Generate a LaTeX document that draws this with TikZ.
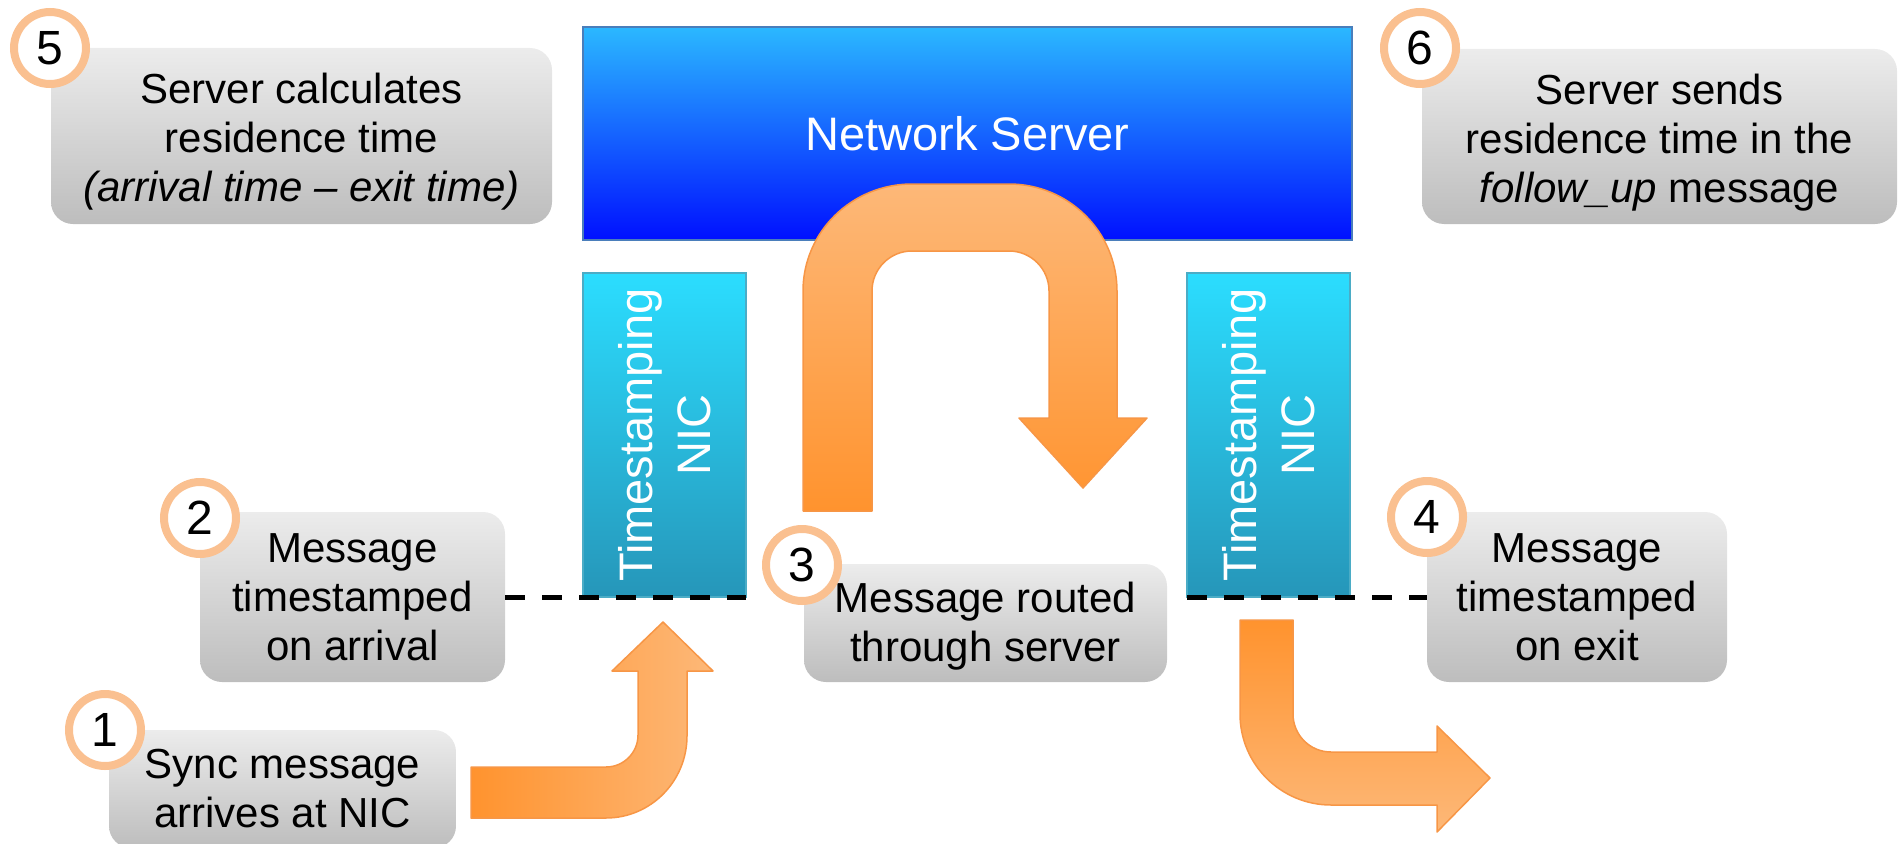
\documentclass[tikz,border=0pt]{standalone}
\usepackage{fontspec}
\setmainfont{Liberation Sans}
\definecolor{peach}{RGB}{250,192,144}
\definecolor{grayTop}{RGB}{236,236,236}
\definecolor{grayBot}{RGB}{189,189,189}
\definecolor{srvTop}{RGB}{43,184,255}
\definecolor{srvBot}{RGB}{0,16,255}
\definecolor{srvEdge}{RGB}{74,126,187}
\definecolor{nicTop}{RGB}{43,221,255}
\definecolor{nicBot}{RGB}{38,150,185}
\definecolor{nicEdge}{RGB}{75,172,198}
\definecolor{orDark}{RGB}{255,147,46}
\definecolor{orLight}{RGB}{253,184,120}
\definecolor{orEdge}{RGB}{247,150,70}
\begin{document}
\begin{tikzpicture}[x=1pt,y=-1pt,
  gbox/.style={rectangle, rounded corners=22pt, inner sep=0pt, outer sep=0pt, top color=grayTop, bottom color=grayBot},
  btext/.style={align=center, font=\fontsize{42}{49}\selectfont, text=black, inner sep=0pt},
  numcirc/.style={circle, draw=peach, line width=8pt, fill=white, minimum size=72pt, inner sep=0pt, font=\fontsize{48}{48}\selectfont},
  nicbox/.style={rectangle, inner sep=0pt, outer sep=0pt, minimum width=163pt, minimum height=324pt, top color=nicTop, bottom color=nicBot, draw=nicEdge, line width=1.5pt},
  nictext/.style={rotate=90, align=center, text=white, font=\fontsize{47}{58}\selectfont, inner sep=0pt},
  bigarrow/.style={draw=orEdge, line width=1.5pt, line join=round},
  stampline/.style={draw=black, line width=5pt, dash pattern=on 20pt off 17pt}
]
\useasboundingbox (0,0) rectangle (1902,843);

% server
\node[rectangle, inner sep=0pt, outer sep=0pt, minimum width=769pt, minimum height=213pt,
      top color=srvTop, bottom color=srvBot, draw=srvEdge, line width=1.5pt] (srv) at (967.5,133.5) {};
\node[text=white, font=\fontsize{47}{47}\selectfont, inner sep=0pt] (srvt) at (srv.center) {Network Server};

% NICs
\node[nicbox] (nicL) at (664.5,435) {};
\node[nicbox] (nicR) at (1268.5,435) {};
\node[nictext] (nicLt) at (nicL.center) {Timestamping\\NIC};
\node[nictext] (nicRt) at (nicR.center) {Timestamping\\NIC};

% grey boxes
\node[gbox, minimum width=501pt, minimum height=176pt] (b5) at (301.5,136) {};
\node[gbox, minimum width=475pt, minimum height=175pt] (b6) at (1659.5,136.5) {};
\node[gbox, minimum width=305pt, minimum height=170pt] (b2) at (352.5,597) {};
\node[gbox, minimum width=363pt, minimum height=118pt] (b3) at (985.5,623) {};
\node[gbox, minimum width=300pt, minimum height=170pt] (b4) at (1577,597) {};
\node[gbox, minimum width=347pt, minimum height=118pt] (b1) at (282.5,789) {};

\node[btext] (t5) at ([yshift=-6pt]b5.center) {Server calculates\\residence time\\\textit{(arrival time \textendash{} exit time)}};
\node[btext] (t6) at ([yshift=-6pt]b6.center) {Server sends\\residence time in the\\\textit{follow\_up} message};
\node[btext] (t2) at (b2.center) {Message\\timestamped\\on arrival};
\node[btext] (t3) at ([yshift=-3pt]b3.center) {Message routed\\through server};
\node[btext] (t4) at (b4.center) {Message\\timestamped\\on exit};
\node[btext] (t1) at (b1.center) {Sync message\\arrives at NIC};

% arrow 1 (bent up)
\draw[bigarrow, left color=orDark, right color=orLight]
  (471,767) -- (606,767) .. controls (623.7,767) and (638,752.7) .. (638,735)
  -- (638,671) -- (612,671) -- (663,622) -- (713,671) -- (687,671) -- (687,736)
  .. controls (687,781.3) and (650.7,818) .. (606,818) -- (471,818) -- cycle;

% U-turn arrow
\draw[bigarrow, top color=orLight, bottom color=orDark]
  (803,511) -- (803,291) .. controls (803,231.9) and (851.8,184) .. (912,184)
  -- (1009,184) .. controls (1068.6,184) and (1117,231.9) .. (1117,291)
  -- (1117,418) -- (1147,418) -- (1083,488) -- (1019,418) -- (1049,418)
  -- (1049,291) .. controls (1049,268.9) and (1031.1,251) .. (1009,251)
  -- (912,251) .. controls (889.9,251) and (872,268.9) .. (872,291)
  -- (872,511) -- cycle;

% arrow 4 (bent right)
\draw[bigarrow, top color=orDark, bottom color=orLight]
  (1240,620) -- (1293,620) -- (1293,714) .. controls (1293,735) and (1310,752) .. (1331,752)
  -- (1437,752) -- (1437,726) -- (1490,778) -- (1437,832) -- (1437,805) -- (1331,805)
  .. controls (1280.8,805) and (1240,764.2) .. (1240,714) -- cycle;

% timestamp lines
\draw[stampline] (b2.east) -- (nicL.south east);
\draw[stampline] (nicR.south west) -- (b4.west);

% numbered circles
\node[numcirc] (c5) at (50,48) {5};
\node[numcirc] (c6) at (1420,48) {6};
\node[numcirc] (c2) at (200,518) {2};
\node[numcirc] (c3) at (802,565) {3};
\node[numcirc] (c4) at (1427,517) {4};
\node[numcirc] (c1) at (105,730) {1};
\end{tikzpicture}
\end{document}
